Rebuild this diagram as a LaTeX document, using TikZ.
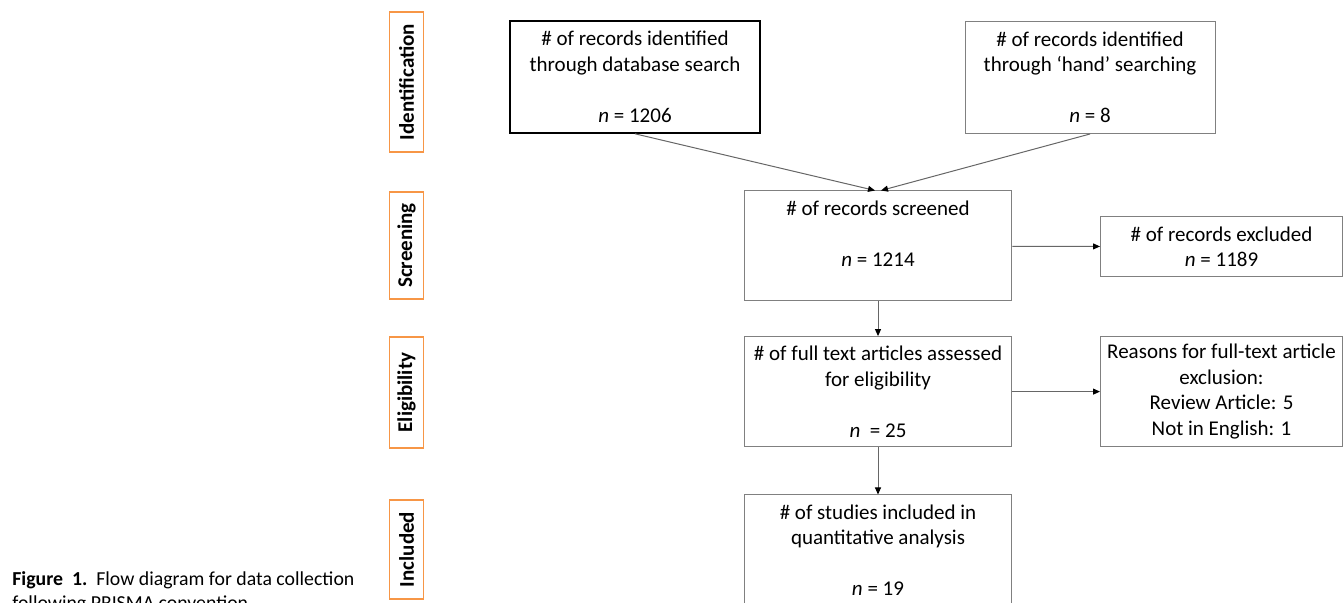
\documentclass[tikz,border=0pt]{standalone}
\usepackage{fontspec}
\setmainfont{Carlito}
\usetikzlibrary{arrows.meta, positioning}
\definecolor{stageorange}{RGB}{247,150,70}
\tikzset{
    record/.style = {
      draw=black!50, line width=0.5pt, align=center, inner sep=0,
      minimum width=133.75pt, minimum height=55pt,
      font=\fontsize{10.5}{12.75}\selectfont,
    },
    source/.style = {
      record, minimum width=125pt, minimum height=56pt,
    },
    side record/.style = {
      record, minimum width=121pt,
    },
    stage/.style = {
      draw=stageorange, line width=0.8pt, rotate=90, inner sep=0,
      minimum height=17pt, font=\fontsize{10.5}{12.75}\selectfont\bfseries,
    },
    flow/.style = {
      draw=black!60, line width=0.5pt,
      arrows={-Triangle[length=3.5pt, width=3pt, black]},
    },
    caption/.style = {
      anchor=base west, inner sep=0, font=\fontsize{9.9}{12}\selectfont,
    },
}

\begin{document}
\begin{tikzpicture}[x=0.5pt, y=-0.5pt]
    \useasboundingbox (0,0) rectangle (1343,603);

    %% Stage labels down the left
    \foreach \name/\y/\len in {Identification/82/70pt, Screening/245.5/53.5pt,
                               Eligibility/392.5/55.5pt, Included/549.5/49.5pt}{%
      \node [stage, minimum width=\len] (stage\name) at (406.5,\y) {\name};
    }

    %% Record boxes
    \node [source, draw=black, line width=0.8pt] (db) at (635,77)
      {\# of records identified\\through database search\\\mbox{}\\\textit{n} = 1206};
    \node [source] (hand) at (1090,77.5)
      {\# of records identified\\through `hand' searching\\\mbox{}\\\textit{n} = 8};
    \node [record] (screened) at (878,246)
      {\# of records screened\\\mbox{}\\\textit{n} = 1214\\\mbox{}};
    \node [side record, minimum height=30pt] (excluded) at (1221.5,246.7)
      {\# of records excluded\\\textit{n} = 1189};
    \node [record] (fulltext) at (878,391.6)
      {\# of full text articles assessed\\for eligibility\\\mbox{}\\\textit{n}\ \ = 25};
    \node [side record] (reasons) at (1221.5,391.6)
      {Reasons for full-text article\\exclusion:\\Review Article: 5\\Not in English: 1};
    \node [record] (included) at (878,550)
      {\# of studies included in\\quantitative analysis\\\mbox{}\\\textit{n} = 19};

    %% Connectors
    \draw [flow] (db.south) -- ([xshift=-1.5pt] screened.north);
    \draw [flow] (hand.south) -- ([xshift=1.5pt] screened.north);
    \draw [flow] (screened) -- (excluded);
    \draw [flow] (screened) -- (fulltext);
    \draw [flow] (fulltext) -- (reasons);
    \draw [flow] (fulltext) -- (included);

    %% Figure caption
    \node [caption] (caption1) at (12,585)
      {\textbf{Figure\ \ 1.}\ \ Flow diagram for data collection};
    \node [caption] (caption2) at (12,609) {following PRISMA convention.};
\end{tikzpicture}
\end{document}
